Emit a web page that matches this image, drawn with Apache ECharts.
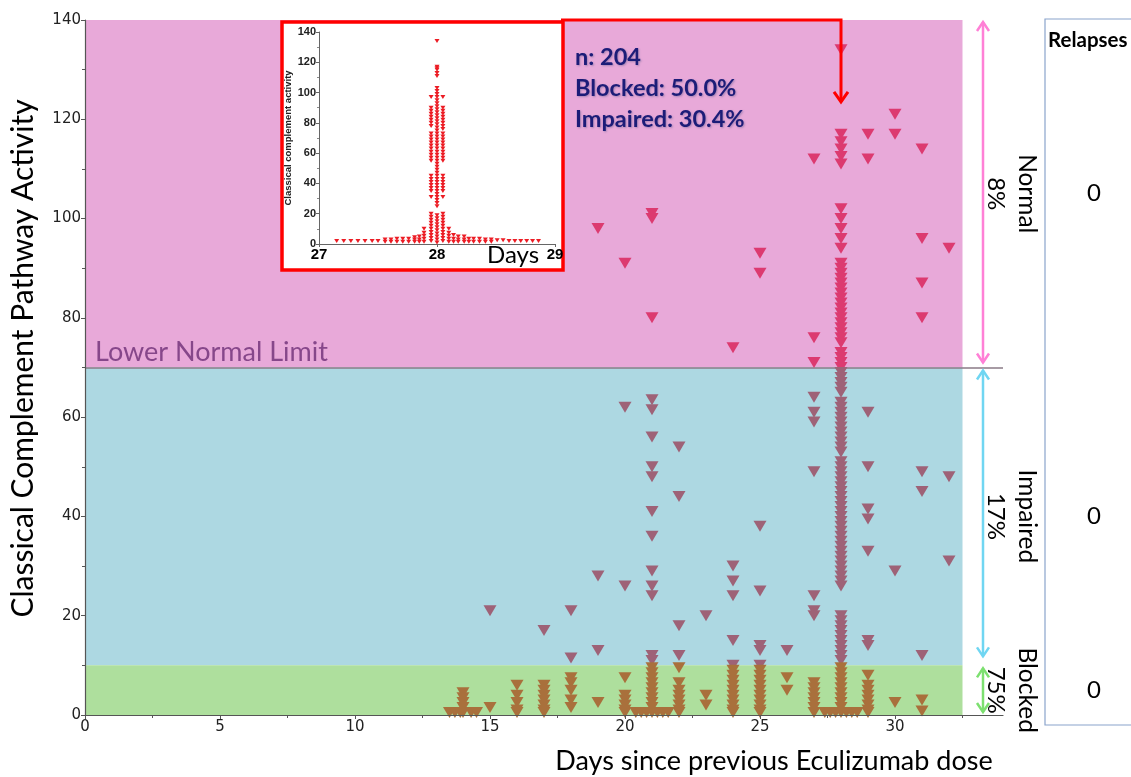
<!DOCTYPE html>
<html><head><meta charset="utf-8">
<script src="https://cdn.jsdelivr.net/npm/echarts@6/dist/echarts.min.js"></script>
<style>html,body{margin:0;padding:0;background:#fff}#c{width:1131px;height:777px}</style>
</head><body><div id="c"></div>
<script>
// ---------------- data ----------------
const mainDays = [14, 15, 16, 17, 18, 19, 20, 21, 22, 23, 24, 25, 26, 27, 28, 29, 30, 31, 32];
const mainValues = [
  [4.5, 3.5, 2.5, 1.5, 0.5],                                   // 14
  [21, 1.5],                                                   // 15
  [6, 4, 2.5, 1, 0.5],                                         // 16
  [17, 6, 5, 4, 3, 2, 1, 0.5],                                 // 17
  [21, 11.5, 7.5, 6.5, 5, 3, 1.5],                             // 18
  [98, 28, 13, 2.5],                                           // 19
  [91, 62, 26, 7.5, 4, 3, 2, 1, 0.5],                          // 20
  [101, 100, 80, 63.5, 61.5, 56, 50, 48, 41, 36, 29, 26, 24, 12, 11, 9.5, 8.5, 7.5, 6.5, 5.5, 4.5, 3.5, 2.5, 1.5, 0.5], // 21
  [54, 44, 18, 12, 9.5, 6.5, 5, 4, 3, 2, 1, 0.5],              // 22
  [20, 4, 2],                                                  // 23
  [74, 30, 27, 24, 15, 10, 9, 8, 7, 6, 5, 4, 3, 2, 1, 0.5],    // 24
  [93, 89, 38, 25, 14, 13, 10, 9, 8, 7, 6, 5, 4, 3, 2, 1, 0.5],// 25
  [13, 7.5, 5],                                                // 26
  [112, 76, 71, 64, 61, 59, 49, 24, 21, 20, 6.5, 5.5, 4.5, 3.5, 2.5, 1.5, 0.5], // 27
  [134, 117, 115.5, 114, 112.5, 111, 102, 100, 98, 96, 94, 91, 90, 89, 88, 87, 86, 85, 84, 83, 82, 81, 80, 79, 78, 77, 76, 75, 73, 72, 71, 70,
   69, 68, 67, 66, 65, 63, 62, 61, 60, 59, 58, 57, 56, 55, 54, 53, 51, 50, 49, 48, 47, 46, 45, 44, 43, 42, 41, 40, 39, 38, 37, 36, 35, 34, 33, 32, 31, 30, 29, 28, 27, 26,
   20, 19, 18, 17, 16, 15, 14, 13, 12, 11, 9.5, 8.5, 7.5, 6.5, 5.5, 4.5, 3.5, 2.5, 1.5, 0.5], // 28
  [117, 112, 61, 50, 41.5, 39.5, 33, 15, 14, 8, 6, 5, 4, 3, 2, 1, 0.5], // 29
  [121, 117, 29, 2.5],                                         // 30
  [114, 96, 87, 80, 49, 45, 12, 3, 0.8],                       // 31
  [94, 48, 31]                                                 // 32
];
// rows of values at ~0 spread sideways around days 14, 21, 28
const zeroRowX = [13.5, 13.7, 13.9, 14.3, 14.5, 20.4, 20.6, 20.8, 21.2, 21.4, 21.6, 27.4, 27.6, 27.8, 28.2, 28.4, 28.6];
const zeroRowY = [0.5, 0.5, 0.5, 0.5, 0.5, 0.5, 0.5, 0.5, 0.5, 0.5, 0.5, 0.5, 0.5, 0.5, 0.5, 0.5, 0.5];

// inset (day 28 zoom)
const insetCentre = [134, 117, 116, 115, 113, 111, 103, 101, 99, 97, 95, 93, 91, 89, 87, 85, 83, 81, 79, 77, 75, 73, 71, 69, 67, 65, 63, 61, 59, 57, 55, 53, 51, 49, 47, 45, 43, 41, 39, 37, 35, 33, 31, 29, 27, 25, 19, 17, 15, 13, 11, 9, 7, 5, 3, 1];
const insetLeft = [97, 90, 88, 86, 84, 82, 80, 78, 73, 71, 69, 67, 65, 63, 61, 59, 57, 55, 45, 43, 41, 39, 37, 35, 31, 20, 18, 16, 14, 12, 10, 8, 6, 4, 2];
const insetRight = [97, 90, 88, 86, 84, 82, 80, 78, 76, 73, 71, 69, 67, 65, 63, 61, 59, 57, 55, 45, 43, 41, 39, 37, 35, 31, 20, 18, 16, 14, 12, 10, 8, 6, 4, 2];
const insetBase = [
  [27.15, 2], [27.21, 2], [27.27, 2], [27.33, 2], [27.39, 2], [27.45, 2], [27.5, 2],
  [27.56, 1.5], [27.56, 3], [27.61, 1.5], [27.61, 3], [27.66, 1.5], [27.66, 3.5], [27.71, 1.5], [27.71, 3.5], [27.76, 1.5], [27.76, 3.5],
  [27.81, 1.5], [27.81, 3], [27.81, 4.5], [27.85, 1.5], [27.85, 3], [27.85, 5], [27.89, 1.5], [27.89, 3.5], [27.89, 5.5], [27.89, 7.5], [27.89, 10],
  [28.1, 1.5], [28.1, 3.5], [28.1, 5.5], [28.1, 7.5], [28.1, 10], [28.14, 1.5], [28.14, 3.5], [28.14, 6], [28.18, 1.5], [28.18, 3], [28.18, 5],
  [28.23, 1.5], [28.23, 3], [28.23, 5], [28.27, 1.5], [28.27, 3.5], [28.31, 1.5], [28.31, 3.5], [28.36, 1.5], [28.36, 3.5],
  [28.41, 1.5], [28.41, 3], [28.46, 1.5], [28.46, 3], [28.51, 2.5], [28.56, 2.5],
  [28.61, 2], [28.66, 2], [28.71, 2], [28.76, 2], [28.81, 2], [28.86, 2]
];

const yTicks = [0, 20, 40, 60, 80, 100, 120, 140];
const xTicks = [0, 5, 10, 15, 20, 25, 30];
const bands = [
  {name: 'Normal', from: 70, to: 140, pct: '8%', relapses: '0', fill: '#e8a9d9', arrow: '#ff80d6', dot: '#dc3a70'},
  {name: 'Impaired', from: 10, to: 70, pct: '17%', relapses: '0', fill: '#add8e2', arrow: '#70d6f2', dot: '#9e6277'},
  {name: 'Blocked', from: 0, to: 10, pct: '75%', relapses: '0', fill: '#aedf9d', arrow: '#7de070', dot: '#a9703c'}
];
const stats = ['n: 204', 'Blocked: 50.0%', 'Impaired: 30.4%'];
const lowerNormalLimit = 70;
const bandEndDay = 32.5;

// ---------------- build ----------------
const mainData = [];
mainDays.forEach((d, i) => mainValues[i].forEach(v => mainData.push([d, v])));
zeroRowX.forEach((x, i) => mainData.push([x, zeroRowY[i]]));
const insetData = [];
insetCentre.forEach(v => insetData.push([28, v]));
insetLeft.forEach(v => insetData.push([27.95, v]));
insetRight.forEach(v => insetData.push([28.05, v]));
insetBase.forEach(p => insetData.push(p));

function dotColor(v) {
  for (const b of bands) if (v >= b.from) return b.dot;
  return bands[2].dot;
}

const UI = 'Lato, "Open Sans", sans-serif';
const TICKF = '"DejaVu Sans", Verdana, sans-serif';
const ARIAL = '"Liberation Sans", Arial, sans-serif';

const chart = echarts.init(document.getElementById('c'));
chart.setOption({
  animation: false,
  backgroundColor: '#fff',
  grid: [
    {left: 85, right: 128, top: 20, bottom: 62},
    {left: 319, top: 32, width: 236, height: 212}
  ],
  xAxis: [
    {gridIndex: 0, type: 'value', min: 0, max: 34, interval: 5, z: 6,
     axisLine: {show: true, lineStyle: {color: '#555', width: 1.2}},
     axisTick: {show: true, length: 4, customValues: xTicks, lineStyle: {color: '#555'}},
     minorTick: {show: true, splitNumber: 2, length: 3, lineStyle: {color: '#555'}},
     axisLabel: {customValues: xTicks, fontFamily: TICKF, fontSize: 15, color: '#222', margin: 5},
     splitLine: {show: false}},
    {gridIndex: 1, type: 'value', min: 27, max: 29, interval: 1, z: 3,
     axisLine: {show: true, lineStyle: {color: '#666'}},
     axisTick: {show: true, length: 3, lineStyle: {color: '#666'}},
     axisLabel: {fontFamily: ARIAL, fontWeight: 'bold', fontSize: 15, color: '#000', margin: 3},
     splitLine: {show: false}}
  ],
  yAxis: [
    {gridIndex: 0, type: 'value', min: 0, max: 140, interval: 20, z: 6,
     name: 'Classical Complement Pathway Activity', nameLocation: 'middle', nameGap: 47,
     nameTextStyle: {fontFamily: UI, fontSize: 30, color: '#000', padding: [0, 0, 0, 18]},
     axisLine: {show: true, lineStyle: {color: '#555', width: 1.2}},
     axisTick: {show: true, length: 4, lineStyle: {color: '#555'}},
     minorTick: {show: true, splitNumber: 2, length: 3, lineStyle: {color: '#555'}},
     axisLabel: {fontFamily: TICKF, fontSize: 15, color: '#222', margin: 4},
     splitLine: {show: false}},
    {gridIndex: 1, type: 'value', min: 0, max: 140, interval: 20, z: 3,
     name: 'Classical complement activity', nameLocation: 'middle', nameGap: 26,
     nameTextStyle: {fontFamily: ARIAL, fontWeight: 'bold', fontSize: 9.5, color: '#222'},
     axisLine: {show: true, lineStyle: {color: '#666'}},
     axisTick: {show: true, length: 3, lineStyle: {color: '#666'}},
     minorTick: {show: true, splitNumber: 2, length: 2, lineStyle: {color: '#888'}},
     axisLabel: {fontFamily: ARIAL, fontWeight: 'bold', fontSize: 11, color: '#222', margin: 3},
     splitLine: {show: false}}
  ],
  series: [
    {type: 'scatter', xAxisIndex: 0, yAxisIndex: 0, data: [], z: 1, silent: true,
     markArea: {silent: true, z: 1,
       data: bands.map(b => [{xAxis: 0, yAxis: b.from, itemStyle: {color: b.fill, opacity: 1}}, {xAxis: bandEndDay, yAxis: b.to}])},
     markLine: {silent: true, z: 5, symbol: 'none',
       lineStyle: {color: '#8a7a86', width: 1.5, type: 'solid'},
       label: {show: true, position: 'insideStartTop', formatter: 'Lower Normal Limit', distance: [10, 2],
               fontFamily: UI, fontSize: 27, color: '#86478a'},
       data: [{yAxis: lowerNormalLimit}]}},
    {type: 'scatter', name: 'CCPA', xAxisIndex: 0, yAxisIndex: 0, z: 5, data: mainData,
     symbol: 'triangle', symbolRotate: 180, symbolSize: [13, 11],
     itemStyle: {color: p => dotColor(p.value[1]), opacity: 1}},
    {type: 'scatter', name: 'inset', xAxisIndex: 1, yAxisIndex: 1, z: 4, data: insetData,
     symbol: 'triangle', symbolRotate: 180, symbolSize: [5, 4],
     itemStyle: {color: '#ec1c24', opacity: 1}}
  ]
});

// ---------------- annotations ----------------
const P = (x, y) => chart.convertToPixel({gridIndex: 0}, [x, y]);
const g = [];
// inset frame
g.push({type: 'rect', z: 2, shape: {x: 282, y: 22, width: 281, height: 248},
        style: {fill: '#fff', stroke: '#ff0000', lineWidth: 3.5}});
g.push({type: 'text', z: 8, x: 513, y: 255,
        style: {text: 'Days', font: '24px ' + UI, fill: '#000', textAlign: 'center', textVerticalAlign: 'middle'}});
// connector to day 28
const c28 = P(28, 123.5);
g.push({type: 'polyline', z: 8, shape: {points: [[561, 20], [c28[0], 20], [c28[0], c28[1]]]},
        style: {stroke: '#ff0000', lineWidth: 3, fill: null}});
g.push({type: 'polyline', z: 8, shape: {points: [[c28[0] - 7, c28[1] - 10], [c28[0], c28[1]], [c28[0] + 7, c28[1] - 10]]},
        style: {stroke: '#ff0000', lineWidth: 3, fill: null}});
// stats text
stats.forEach((s, i) => g.push({type: 'text', z: 8, x: 575, y: 57 + i * 31,
  style: {text: s, font: 'bold 23.5px ' + UI, fill: '#1c1c78', textAlign: 'left', textVerticalAlign: 'middle',
          textShadowColor: 'rgba(90,90,140,0.45)', textShadowBlur: 2, textShadowOffsetX: 1, textShadowOffsetY: 1}}));
// band arrows + labels + relapses
const ax = 983;
const gaps = [[2, -5], [3, -9], [3, -3]];
bands.forEach((b, i) => {
  const yTop = P(0, b.to)[1] + gaps[i][0];
  const yBot = P(0, b.from)[1] + gaps[i][1];
  const yMid = (P(0, b.to)[1] + P(0, b.from)[1]) / 2;
  g.push({type: 'line', z: 8, shape: {x1: ax, y1: yTop, x2: ax, y2: yBot}, style: {stroke: b.arrow, lineWidth: 2.5}});
  g.push({type: 'polyline', z: 8, shape: {points: [[ax - 6, yTop + 9], [ax, yTop], [ax + 6, yTop + 9]]}, style: {stroke: b.arrow, lineWidth: 2.5, fill: null}});
  g.push({type: 'polyline', z: 8, shape: {points: [[ax - 6, yBot - 9], [ax, yBot], [ax + 6, yBot - 9]]}, style: {stroke: b.arrow, lineWidth: 2.5, fill: null}});
  g.push({type: 'text', z: 8, x: 996, y: yMid, rotation: -Math.PI / 2,
          style: {text: b.pct, font: '24px ' + UI, fill: '#000', textAlign: 'center', textVerticalAlign: 'middle'}});
  g.push({type: 'text', z: 8, x: 1027, y: yMid, rotation: -Math.PI / 2,
          style: {text: b.name, font: '24.5px ' + UI, fill: '#000', textAlign: 'center', textVerticalAlign: 'middle'}});
  g.push({type: 'text', z: 8, x: 1094, y: yMid,
          style: {text: b.relapses, font: '24px ' + UI, fill: '#000', textAlign: 'center', textVerticalAlign: 'middle'}});
});
g.push({type: 'rect', z: 8, shape: {x: 1045, y: 19, width: 120, height: 706}, style: {fill: null, stroke: '#8aa4cc', lineWidth: 1.2}});
g.push({type: 'text', z: 8, x: 1048, y: 40,
        style: {text: 'Relapses', font: 'bold 20.5px ' + UI, fill: '#000', textAlign: 'left', textVerticalAlign: 'middle'}});
// x-axis title
g.push({type: 'text', z: 8, x: 774, y: 761,
        style: {text: 'Days since previous Eculizumab dose', font: '27px ' + UI, fill: '#000', textAlign: 'center', textVerticalAlign: 'middle'}});
chart.setOption({graphic: {elements: g}});
</script>
</body></html>
